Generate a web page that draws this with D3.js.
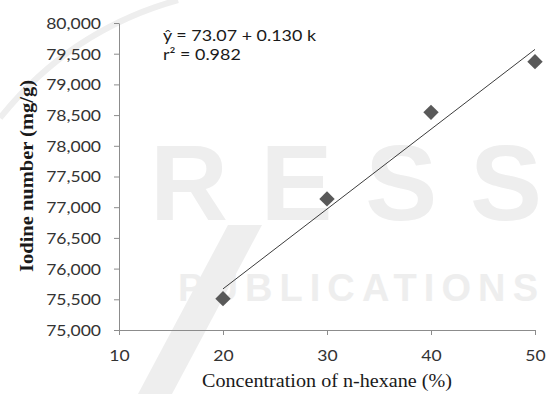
<!DOCTYPE html>
<html>
<head>
<meta charset="utf-8">
<script src="https://cdn.jsdelivr.net/npm/d3@7"></script>
<style>
  body { margin: 0; background: #fff; }
  svg { display: block; }
</style>
</head>
<body>
<svg id="chart" width="549" height="394"></svg>
<script>
// Iodine number of activated carbon vs n-hexane concentration
const concentration = [20, 30, 40, 50];            // %
const iodineNumber = [75510, 77135, 78545, 79370]; // mg/g
const xTicks = [10, 20, 30, 40, 50];
const yTicks = [75000, 75500, 76000, 76500, 77000, 77500, 78000, 78500, 79000, 79500, 80000];
const fitIntercept = 73.07;  // thousand mg/g
const fitSlope = 0.130;      // thousand mg/g per %
const fitRange = [20, 50];
const equationLines = ["ŷ = 73.07 + 0.130 k", "r² = 0.982"];
const xTitle = "Concentration of n-hexane (%)";
const yTitle = "Iodine number (mg/g)";
const markTexts = ["RESS", "PUBLICATIONS"];

const svg = d3.select("#chart");
const sansFont = "Lato, 'Open Sans', sans-serif";
const serifFont = "'Liberation Serif', 'Times New Roman', serif";
const axisColor = "#8c8c8c";
const textColor = "#333333";

// widen rendered text by a factor, keeping its anchor
function widen(sel, factor) {
  sel.each(function () {
    const w = this.getComputedTextLength();
    d3.select(this).attr("textLength", w * factor).attr("lengthAdjust", "spacingAndGlyphs");
  });
}
// fit a text to a given rendered length
function fitLength(sel, len, mode = "spacingAndGlyphs") {
  sel.attr("textLength", len).attr("lengthAdjust", mode);
}

// faint publisher mark in the background
const markColor = "#eeeeee";
const mark = svg.append("g").attr("fill", markColor)
  .attr("font-family", "'Liberation Sans', Arial, sans-serif").attr("font-weight", "bold");
mark.append("path")
  .attr("d", "M178,0 Q70,30 0,118")
  .attr("fill", "none").attr("stroke", markColor).attr("stroke-width", 6);
mark.append("text").attr("x", 150).attr("y", 220).attr("font-size", 108)
  .text(markTexts[0]).call(fitLength, 392, "spacing");
mark.append("text").attr("x", 178).attr("y", 301).attr("font-size", 38)
  .text(markTexts[1]).call(fitLength, 360, "spacing");
mark.append("path").attr("d", "M228,225 L262,225 L172,394 L138,394 Z");

// scales
const x = d3.scaleLinear().domain([10, 50]).range([119, 535]);
const y = d3.scaleLinear().domain([75000, 80000]).range([330, 23]);

// y axis
const yAxis = svg.append("g")
  .attr("transform", `translate(${x(10)},0)`)
  .call(d3.axisLeft(y).tickValues(yTicks).tickSize(5).tickSizeOuter(0).tickPadding(13).tickFormat(d3.format(",")));
yAxis.select(".domain").attr("stroke", axisColor);
yAxis.selectAll(".tick line").attr("stroke", axisColor);
yAxis.selectAll("text")
  .attr("font-family", sansFont).attr("font-size", 15).attr("fill", textColor).attr("dy", "0.36em")
  .call(widen, 1.17);

// x axis
const xAxis = svg.append("g")
  .attr("transform", `translate(0,${y(75000)})`)
  .call(d3.axisBottom(x).tickValues(xTicks).tickSize(5).tickSizeOuter(0).tickFormat(d3.format("d")));
xAxis.select(".domain").attr("stroke", axisColor);
xAxis.selectAll(".tick line").attr("stroke", axisColor);
xAxis.selectAll("text")
  .attr("font-family", sansFont).attr("font-size", 15).attr("fill", textColor)
  .attr("y", 31).attr("dy", 0)
  .call(widen, 1.17);

// fitted line from the stated regression
const fitLine = d3.line().x(d => x(d)).y(d => y((fitIntercept + fitSlope * d) * 1000));
svg.append("path")
  .datum(fitRange)
  .attr("d", fitLine)
  .attr("fill", "none").attr("stroke", "#3c3c3c").attr("stroke-width", 1);

// data points as diamonds
const diamond = d3.symbol().type(d3.symbolSquare).size(118);
svg.selectAll(".pt")
  .data(concentration.map((c, i) => ({ c, v: iodineNumber[i] })))
  .join("path")
  .attr("class", "pt")
  .attr("d", diamond)
  .attr("transform", d => `translate(${x(d.c)},${y(d.v)}) rotate(45)`)
  .attr("fill", "#595959");

// regression equation
const eq = svg.append("g").attr("font-family", sansFont).attr("font-size", 14.5).attr("fill", "#1a1a1a");
const eqText = eq.selectAll("text")
  .data(equationLines)
  .join("text")
  .attr("x", 163).attr("y", (d, i) => 40.5 + i * 19.5)
  .text(d => d);
const eqFactor = 153 / eqText.node().getComputedTextLength();
eqText.call(widen, eqFactor);

// axis titles
svg.append("text")
  .attr("x", 327).attr("y", 387)
  .attr("text-anchor", "middle")
  .attr("font-family", serifFont).attr("font-size", 18).attr("fill", "#1a1a1a")
  .text(xTitle)
  .call(fitLength, 250);

svg.append("text")
  .attr("transform", `translate(33,176) rotate(-90)`)
  .attr("text-anchor", "middle")
  .attr("font-family", serifFont).attr("font-size", 18.5).attr("font-weight", "bold").attr("fill", "#1a1a1a")
  .text(yTitle)
  .call(fitLength, 192);
</script>
</body>
</html>
